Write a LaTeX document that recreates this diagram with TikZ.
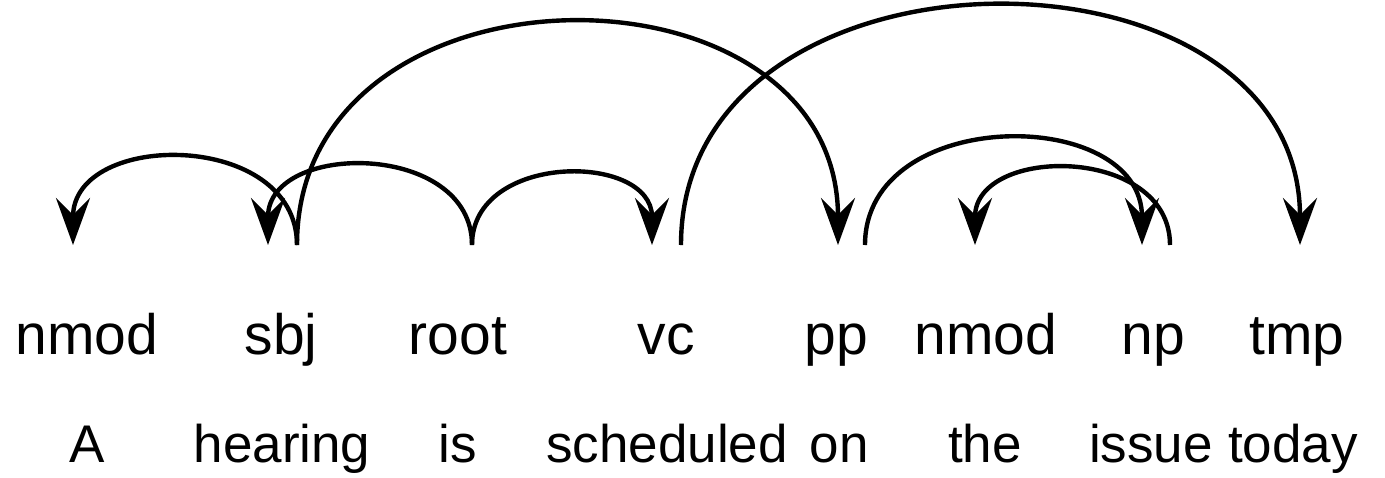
\documentclass[tikz,border=0pt]{standalone}
\usepackage{fontspec}
\setmainfont{Liberation Sans}
\usetikzlibrary{arrows.meta,calc}
\tikzset{
  lbl/.style={anchor=base, inner sep=0pt, font=\fontsize{28.5pt}{33pt}\selectfont},
  wrd/.style={anchor=base, inner sep=0pt, font=\fontsize{26.5pt}{31pt}\selectfont},
  dep/.style={line width=2.2pt, -{Stealth[length=23.5pt,width=17pt,inset=8.5pt]}},
}
\begin{document}
\begin{tikzpicture}[x=0.5pt,y=-0.5pt]
\useasboundingbox (0,0) rectangle (1385,477);
% labels
\node[lbl] (l1) at (87,354) {nmod};
\node[lbl] (l2) at (281,354) {sbj};
\node[lbl] (l3) at (458,354) {root};
\node[lbl] (l4) at (666,354) {vc};
\node[lbl] (l5) at (836,354) {pp};
\node[lbl] (l6) at (986,354) {nmod};
\node[lbl] (l7) at (1153,354) {np};
\node[lbl] (l8) at (1297,354) {tmp};
% words
\node[wrd] (w1) at (87,462) {A};
\node[wrd] (w2) at (282,462) {hearing};
\node[wrd] (w3) at (458,462) {is};
\node[wrd] (w4) at (667,462) {scheduled};
\node[wrd] (w5) at (839,462) {on};
\node[wrd] (w6) at (985,462) {the};
\node[wrd] (w7) at (1151,462) {issue};
\node[wrd] (w8) at (1293,462) {today};
% anchor points
\coordinate (i1) at (73,245);
\coordinate (i2) at (268,245);
\coordinate (o2) at (297,245);
\coordinate (o3) at (472,245);
\coordinate (i4) at (652,245);
\coordinate (o4) at (681,245);
\coordinate (i5) at (838,245);
\coordinate (o5) at (865,245);
\coordinate (i6) at (975,245);
\coordinate (i7) at (1142,245);
\coordinate (o7) at (1170,245);
\coordinate (i8) at (1300,245);
% arcs
\draw[dep] (o2) .. controls ($(o2)+(0,-115)$) and ($(i1)+(0,-115)$) .. (i1);
\draw[dep] (o3) .. controls ($(o3)+(0,-104)$) and ($(i2)+(0,-104)$) .. (i2);
\draw[dep] (o3) .. controls ($(o3)+(0,-93)$) and ($(i4)+(0,-93)$) .. (i4);
\draw[dep] (o2) .. controls ($(o2)+(0,-295)$) and ($(i5)+(0,-295)$) .. (i5);
\draw[dep] (o4) .. controls ($(o4)+(0,-317)$) and ($(i8)+(0,-317)$) .. (i8);
\draw[dep] (o5) .. controls ($(o5)+(0,-140)$) and ($(i7)+(0,-140)$) .. (i7);
\draw[dep] (o7) .. controls ($(o7)+(0,-100)$) and ($(i6)+(0,-100)$) .. (i6);
\end{tikzpicture}
\end{document}
